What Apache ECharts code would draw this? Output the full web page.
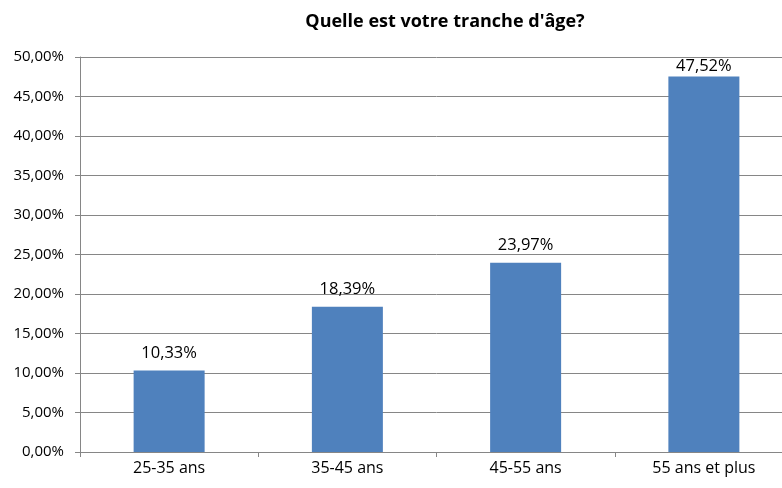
<!DOCTYPE html>
<html>
<head>
    <meta charset="UTF-8">
    <title>Tranche d'âge</title>
    <style>
        html, body { margin: 0; padding: 0; background: #fff; overflow: hidden; }
        /* chart is a bit wider than the window: the plot runs past the right edge */
        #main { width: 794px; height: 488px; }
    </style>
    <script src="https://cdn.jsdelivr.net/npm/echarts@6/dist/echarts.min.js"></script>
</head>
<body>
    <div id="main"></div>
    <script type="text/javascript">
        var categories = ['25-35 ans', '35-45 ans', '45-55 ans', '55 ans et plus'];
        var values = [10.33, 18.39, 23.97, 47.52];

        function pct(v) {
            return v.toFixed(2).replace('.', ',') + '%';
        }

        // top label of the tallest bar sits tight on the bar (no room above)
        var barData = values.map(function (v, i) {
            if (i === values.length - 1) {
                return { value: v, label: { distance: 2 } };
            }
            return v;
        });

        var myChart = echarts.init(document.getElementById('main'));
        var option = {
            animation: false,
            textStyle: { fontFamily: 'Open Sans' },
            title: {
                text: "Quelle est votre tranche d'âge?",
                left: 440,
                top: 8,
                textAlign: 'center',
                textStyle: { fontSize: 18, fontWeight: 'bold', color: '#000', fontFamily: 'Open Sans' }
            },
            grid: { left: 80, right: 1, top: 57, bottom: 36 },
            xAxis: {
                type: 'category',
                data: categories,
                axisLine: { lineStyle: { color: '#868686' } },
                axisTick: { show: true, length: 5, lineStyle: { color: '#868686' } },
                axisLabel: { color: '#000', fontSize: 16, margin: 8 }
            },
            yAxis: {
                type: 'value',
                min: 0,
                max: 50,
                interval: 5,
                axisLine: { show: true, lineStyle: { color: '#868686' } },
                axisTick: { show: true, length: 5, lineStyle: { color: '#868686' } },
                splitLine: { lineStyle: { color: '#868686' } },
                axisLabel: { color: '#000', fontSize: 15, margin: 16, formatter: function (v) { return pct(v); } }
            },
            series: [{
                type: 'bar',
                data: barData,
                barWidth: 71,
                itemStyle: { color: '#4F81BD' },
                label: {
                    show: true,
                    position: 'top',
                    distance: 9,
                    color: '#000',
                    fontSize: 16.5,
                    formatter: function (p) { return pct(p.value); }
                }
            }]
        };
        myChart.setOption(option);
    </script>
</body>
</html>
